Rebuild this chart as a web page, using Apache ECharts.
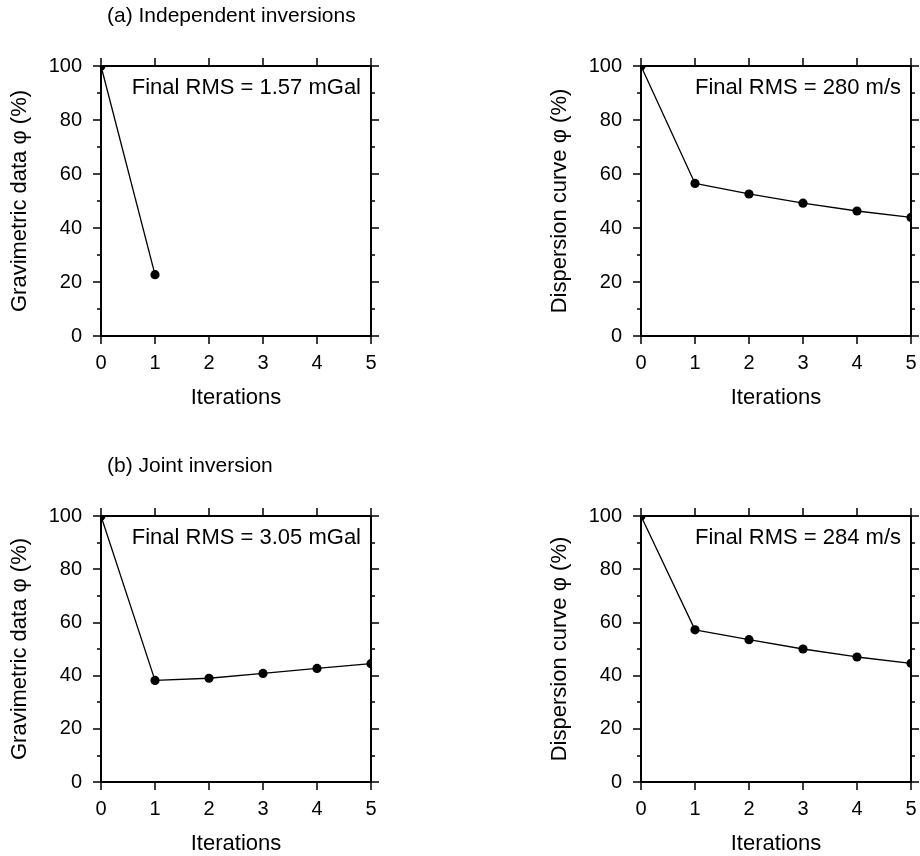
<!DOCTYPE html>
<html>
<head>
<meta charset="utf-8">
<script src="https://cdn.jsdelivr.net/npm/echarts@6/dist/echarts.min.js"></script>
<style>html,body{margin:0;padding:0;background:#fff}#c{width:920px;height:856px}</style>
</head>
<body>
<div id="c"></div>
<script>
const iterations = [0, 1, 2, 3, 4, 5];
const gravIndep = [100, 22.7];
const dispIndep = [100, 56.5, 52.6, 49.2, 46.3, 43.9];
const gravJoint = [100, 38.2, 39.0, 40.8, 42.7, 44.5];
const dispJoint = [100, 57.2, 53.5, 50.0, 47.0, 44.6];
const panelValues = [gravIndep, dispIndep, gravJoint, dispJoint];
const yNames = ['Gravimetric data φ (%)', 'Dispersion curve φ (%)', 'Gravimetric data φ (%)', 'Dispersion curve φ (%)'];
const rmsTexts = ['Final RMS = 1.57 mGal', 'Final RMS = 280 m/s', 'Final RMS = 3.05 mGal', 'Final RMS = 284 m/s'];
const headings = ['(a) Independent inversions', '(b) Joint inversion'];
const xTitle = 'Iterations';

const FONT = 'Liberation Sans, Arial, Helvetica, sans-serif';
const FS_TICK = 20;
const FS_NAME = 22;
const FS_RMS = 22;
const FS_HEAD = 21;
const grids = [
  {left: 101, top: 66, width: 270, height: 270},
  {left: 641, top: 66, width: 270, height: 270},
  {left: 101, top: 516, width: 270, height: 270},
  {left: 641, top: 516, width: 270, height: 270}
];

const xAxes = [], yAxes = [], series = [], graphics = [];
grids.forEach((g, i) => {
  const base = {
    type: 'value', gridIndex: i, min: 0, max: 5, interval: 1,
    axisLine: {show: true, onZero: false, lineStyle: {color: '#000', width: 2}},
    axisTick: {show: true, inside: false, length: 8, lineStyle: {color: '#000', width: 1.5}},
    splitLine: {show: false}
  };
  xAxes.push(Object.assign({}, base, {
    position: 'bottom',
    name: xTitle, nameLocation: 'middle', nameGap: 51,
    nameTextStyle: {fontSize: FS_NAME, color: '#000', fontFamily: FONT},
    axisLabel: {show: true, fontSize: FS_TICK, color: '#000', fontFamily: FONT, margin: 17}
  }));
  xAxes.push(Object.assign({}, base, {position: 'top', axisLabel: {show: false}}));
  const ybase = {
    type: 'value', gridIndex: i, min: 0, max: 100, interval: 20,
    axisLine: {show: true, onZero: false, lineStyle: {color: '#000', width: 2}},
    axisTick: {show: true, inside: false, length: 8, lineStyle: {color: '#000', width: 1.5}},
    minorTick: {show: true, splitNumber: 2, length: 4, lineStyle: {color: '#000', width: 1.5}},
    splitLine: {show: false}, minorSplitLine: {show: false}
  };
  yAxes.push(Object.assign({}, ybase, {
    position: 'left',
    name: yNames[i], nameLocation: 'middle', nameGap: 70,
    nameTextStyle: {fontSize: FS_NAME, color: '#000', fontFamily: FONT},
    axisLabel: {show: true, fontSize: FS_TICK, color: '#000', fontFamily: FONT, margin: 19}
  }));
  yAxes.push(Object.assign({}, ybase, {position: 'right', axisLabel: {show: false}}));

  const pts = panelValues[i].map((v, k) => [iterations[k], v]);
  series.push({
    type: 'line', xAxisIndex: 2 * i, yAxisIndex: 2 * i, data: pts,
    showSymbol: false, symbol: 'none', clip: true, animation: false,
    lineStyle: {color: '#000', width: 1.3}
  });
  series.push({
    type: 'custom', xAxisIndex: 2 * i, yAxisIndex: 2 * i, data: pts, clip: true, animation: false,
    renderItem: function (params, api) {
      const p = api.coord([api.value(0), api.value(1)]);
      return {type: 'circle', shape: {cx: p[0], cy: p[1], r: 4.6}, style: {fill: '#000'}};
    }
  });
  graphics.push({
    type: 'text', right: 920 - (g.left + g.width - 10), top: g.top + 11,
    style: {text: rmsTexts[i], font: FS_RMS + 'px ' + FONT, fill: '#000', textAlign: 'right'}
  });
});
graphics.push({type: 'text', left: 107, top: 6, style: {text: headings[0], font: FS_HEAD + 'px ' + FONT, fill: '#000'}});
graphics.push({type: 'text', left: 107, top: 456, style: {text: headings[1], font: FS_HEAD + 'px ' + FONT, fill: '#000'}});

const chart = echarts.init(document.getElementById('c'), null, {renderer: 'canvas'});
chart.setOption({
  backgroundColor: '#fff',
  animation: false,
  grid: grids.map(g => Object.assign({show: false, containLabel: false}, g)),
  xAxis: xAxes,
  yAxis: yAxes,
  series: series,
  graphic: graphics
});
</script>
</body>
</html>
